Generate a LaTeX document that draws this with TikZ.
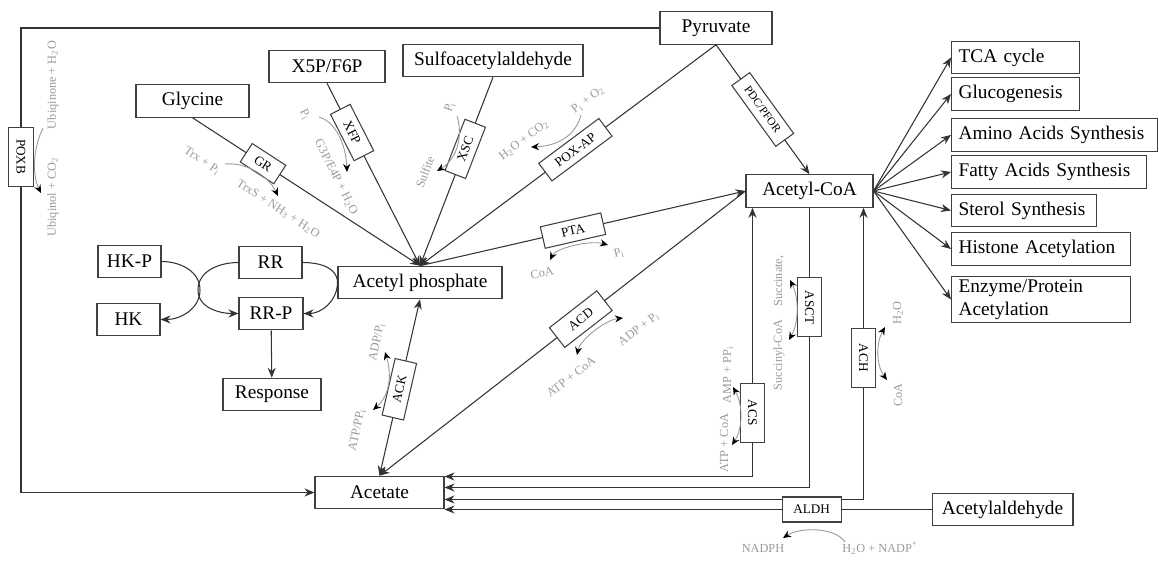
\documentclass[tikz,border=0pt]{standalone}
\usepackage{fontspec}
\setmainfont{Liberation Serif}
\usetikzlibrary{arrows.meta,positioning,calc}

\definecolor{lblgray}{gray}{0.6}

\begin{document}
\begin{tikzpicture}[
    x=0.02cm, y=0.02cm,
    box/.style={rectangle, draw=black!75, line width=0.6pt, fill=white,
                minimum height=6.5mm, inner sep=2pt,
                font=\fontsize{11}{13}\selectfont},
    outbox/.style={box, anchor=west, align=left, inner xsep=4pt},
    enz/.style={rectangle, draw=black!75, line width=0.6pt, fill=white,
                sloped, inner sep=1pt, minimum height=4.4mm,
                font=\fontsize{7.5}{9}\selectfont},
    side/.style={font=\fontsize{7}{8.5}\selectfont, text=lblgray, inner sep=0pt},
    arr/.style={-{Stealth[length=2mm,width=1.6mm]}, line width=0.6pt, draw=black!80},
    dbl/.style={{Stealth[length=2mm,width=1.6mm]}-{Stealth[length=2mm,width=1.6mm]},
                line width=0.6pt, draw=black!80},
    bent/.style={-{Stealth[length=1.6mm,width=1.4mm,black]}, draw=lblgray, line width=0.5pt},
    bentdbl/.style={{Stealth[length=1.6mm,width=1.4mm,black]}-{Stealth[length=1.6mm,width=1.4mm,black]},
                    draw=lblgray, line width=0.5pt},
]
\useasboundingbox (0,0) rectangle (1159,-563);

% metabolites
\node[box, minimum width=22.4mm] (pyr) at (716,-28) {Pyruvate};
\node[box, minimum width=23.2mm] (x5p) at (327,-66.5) {X5P/F6P};
\node[box, minimum width=36mm] (sulfo) at (493,-60.5) {Sulfoacetylaldehyde};
\node[box, minimum width=22.6mm] (gly) at (192.5,-101) {Glycine};
\node[box, minimum width=32.8mm] (acp) at (420,-282.5) {Acetyl phosphate};
\node[box, minimum width=25.4mm] (acoa) at (809.5,-191) {Acetyl-CoA};
\node[box, minimum width=25.8mm] (ace) at (379.5,-492.5) {Acetate};
\node[box, minimum width=28.2mm] (ald) at (1002.5,-509.5) {Acetylaldehyde};

% two-component system
\node[box, minimum width=12.6mm] (hkp) at (129.5,-261.5) {HK-P};
\node[box, minimum width=12.6mm] (hk) at (128.5,-319.5) {HK};
\node[box, minimum width=12.6mm] (rr) at (270.5,-262.5) {RR};
\node[box, minimum width=12.8mm] (rrp) at (271,-313.5) {RR-P};
\node[box, minimum width=19.6mm] (resp) at (272,-394.5) {Response};

% fates of acetyl-CoA
\node[outbox, text width=22.8mm] (tca) at (951,-57.5) {TCA cycle};
\node[outbox, text width=22.8mm] (glu) at (951,-94) {Glucogenesis};
\node[outbox, text width=38.4mm] (amino) at (951,-135) {Amino Acids Synthesis};
\node[outbox, text width=36.2mm] (fatty) at (951,-172) {Fatty Acids Synthesis};
\node[outbox, text width=26.2mm] (sterol) at (951,-210.5) {Sterol Synthesis};
\node[outbox, text width=33mm] (histone) at (951,-249) {Histone Acetylation};
\node[outbox, text width=33mm] (enzp) at (951,-299.5) {Enzyme/Protein\\Acetylation};

\foreach \t in {tca,glu,amino,fatty,sterol,histone,enzp}
  \draw[arr] (acoa.east) -- (\t.west);

% POXB loop
\coordinate (tl) at (21,-28);
\coordinate (bl) at (21,-492.5);
\draw[arr] (pyr.west) -- (tl) -- node[enz, pos=0.277, minimum width=11.8mm, minimum height=5mm] (poxb) {POXB} (bl) -- (ace.west);

% into acetyl phosphate
\draw[arr] (gly.south) -- node[enz, pos=0.31, minimum width=8mm] (gr) {GR} (acp.north);
\draw[arr] (x5p.south) -- node[enz, pos=0.27, minimum width=10.4mm] (xfp) {XFP} (acp.north);
\draw[arr] (sulfo.south) -- node[enz, pos=0.38, minimum width=11mm] (xsc) {XSC} (acp.north);
\draw[arr] (pyr.south) -- node[enz, pos=0.475, minimum width=15mm] (poxap) {POX-AP} (acp.north);
\draw[arr] (pyr.south) -- node[enz, pos=0.5, minimum width=15mm, font=\fontsize{6.5}{8}\selectfont] (pdc) {PDC/PFOR} (acoa.north);
\draw[arr] (acp.north) -- node[enz, pos=0.47, minimum width=12.4mm] (pta) {PTA} (acoa.west);
\draw[dbl] (acp.south) -- node[enz, pos=0.51, minimum width=11.6mm] (ack) {ACK} (ace.north);
\draw[arr] (acoa.west) -- node[enz, pos=0.45, minimum width=12mm, minimum height=5mm] (acd) {ACD} (ace.north);

% acetyl-CoA <-> acetate
\coordinate (in1) at ($(ace.east)+(0,16)$);
\coordinate (in2) at ($(ace.east)+(0,5)$);
\coordinate (in3) at ($(ace.east)+(0,-7)$);
\coordinate (acsT) at ($(acoa.south west)+(7,0)$);
\coordinate (achT) at ($(acoa.south east)+(-10,0)$);
\draw[dbl] (acsT) -- node[enz, pos=0.763, minimum width=11.8mm, minimum height=4.8mm] (acs) {ACS} (acsT |- in1) -- (in1);
\draw[arr] (acoa.south) -- node[enz, pos=0.356, minimum width=11.8mm, minimum height=4.8mm] (asct) {ASCT} (acoa.south |- in2) -- (in2);
\draw[dbl] (achT) -- node[enz, pos=0.514, minimum width=11.8mm, minimum height=4.8mm] (ach) {ACH} (achT |- in3) -- (in3);
\draw[arr] (ald.west) -- node[enz, pos=0.246, minimum width=11.8mm, minimum height=5mm] (aldh) {ALDH} (ald.west -| ace.east);

% two-component arrows
\draw[arr] (hkp.east) to[out=0,in=90] (200,-290) to[out=-90,in=0] (hk.east);
\draw[arr] (rr.west) to[out=180,in=90] (198,-290) to[out=-90,in=180] (rrp.west);
\draw[arr] (rr.east) to[out=0,in=90] (acp.west) to[out=-90,in=0] (rrp.east);
\draw[arr] (rrp) -- (resp);

% co-substrates
\node[side, rotate=90] (ubq) at (53,-85) {Ubiqinone + H\textsubscript{2}O};
\node[side, rotate=90] (ubqol) at (53,-197) {Ubiqinol + CO\textsubscript{2}};
\draw[bent] (43,-128) .. controls (33,-148) and (32,-175) .. (41,-193);

\node[side, rotate=-33] (trx) at (202,-161) {Trx + P\textsubscript{i}};
\node[side, rotate=-33] (trxs) at (278,-209) {TrxS + NH\textsubscript{3} + H\textsubscript{2}O};
\draw[bent] (225,-164) .. controls (245,-162) and (268,-175) .. (278,-196);

\node[side, rotate=-63] (pia) at (305,-115) {P\textsubscript{i}};
\node[side, rotate=-63] (g3p) at (336,-177) {G3P/E4P + H\textsubscript{2}O};
\draw[bent] (319,-117) .. controls (336,-122) and (346,-145) .. (347,-172);

\node[side, rotate=70] (pib) at (450,-107) {P\textsubscript{i}};
\node[side, rotate=70] (sulfite) at (425,-172) {Sulfite};
\draw[bent] (457,-116) .. controls (463,-135) and (458,-158) .. (437,-171);

\node[side, rotate=37] (pio) at (588,-100) {P\textsubscript{i} + O\textsubscript{2}};
\node[side, rotate=37] (hco) at (524,-140) {H\textsubscript{2}O + CO\textsubscript{2}};
\draw[bent] (581,-115) .. controls (576,-135) and (558,-146) .. (531,-147);

\node[side, rotate=13] (coaa) at (542,-273) {CoA};
\node[side, rotate=13] (pic) at (619,-253) {P\textsubscript{i}};
\draw[bentdbl] (550,-260) .. controls (556,-248) and (590,-240) .. (608,-245);

\node[side, rotate=78] (adpa) at (377,-342) {ADP/P\textsubscript{i}};
\node[side, rotate=78] (atpa) at (357,-430) {ATP/PP\textsubscript{i}};
\draw[bentdbl] (385,-352) .. controls (392,-375) and (390,-395) .. (373,-410);

\node[side, rotate=37.5] (atpb) at (571,-377) {ATP + CoA};
\node[side, rotate=37.5] (adpb) at (639,-329) {ADP + P\textsubscript{i}};
\draw[bentdbl] (577,-355) .. controls (580,-340) and (605,-320) .. (623,-318);

\node[side, rotate=90] (atpc) at (724,-443) {ATP + CoA};
\node[side, rotate=90] (amp) at (728,-375) {AMP + PP\textsubscript{i}};
\draw[bentdbl] (733,-387) .. controls (743,-405) and (743,-428) .. (732,-445);

\node[side, rotate=90] (sucoa) at (779,-355) {Succinyl-CoA};
\node[side, rotate=90] (succ) at (779,-281) {Succinate,};
\draw[bentdbl] (790,-280) .. controls (799,-298) and (799,-322) .. (789,-340);

\node[side, rotate=90] (water) at (898,-313) {H\textsubscript{2}O};
\node[side, rotate=90] (coab) at (898,-395) {CoA};
\draw[bentdbl] (885,-327) .. controls (876,-343) and (876,-365) .. (887,-380);

\node[side] (nadph) at (763,-548) {NADPH};
\node[side] (nadp) at (880,-548) {H\textsubscript{2}O + NADP\textsuperscript{+}};
\draw[bent] (845,-542) .. controls (835,-527) and (800,-527) .. (783,-538);

\end{tikzpicture}
\end{document}
